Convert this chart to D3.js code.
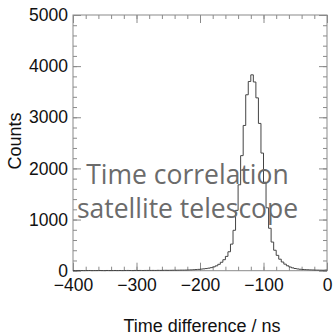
<!DOCTYPE html>
<html>
<head>
<meta charset="utf-8">
<script src="https://cdn.jsdelivr.net/npm/d3@7"></script>
<style>
  body { margin: 0; background: #fff; }
  svg { display: block; }
</style>
</head>
<body>
<div id="chart"></div>
<script>
// histogram: 4 ns bins from -400 to 0
const binStart = -400;
const binWidth = 4;
const counts = [
  3, 2, 4, 3, 2, 3, 4, 2, 3, 3,
  4, 3, 2, 4, 3, 3, 4, 3, 4, 3,
  4, 5, 4, 3, 5, 4, 5, 4, 5, 6,
  5, 6, 5, 7, 6, 7, 8, 7, 8, 9,
  9, 10, 11, 11, 12, 14, 16, 19, 22, 26,
  31, 36, 42, 50, 60, 75, 95, 125, 165, 215,
  280, 370, 520, 790, 1180, 1680, 2250, 2840, 3440, 3700,
  3830, 3690, 3380, 2880, 2300, 1730, 1230, 830, 560, 400,
  300, 225, 170, 128, 96, 72, 55, 43, 34, 28,
  24, 21, 18, 16, 14, 12, 11, 10, 9, 12
];
const xTicks = [-400, -300, -200, -100, 0];
const yTicks = [0, 1000, 2000, 3000, 4000, 5000];
const xLabel = "Time difference / ns";
const yLabel = "Counts";
const overlayLines = ["Time correlation", "satellite telescope"];

const W = 335, H = 336;
const margin = { top: 15, right: 8, bottom: 65.3, left: 73 };
const innerW = W - margin.left - margin.right;
const innerH = H - margin.top - margin.bottom;
const font = "'Liberation Sans', Arial, Helvetica, sans-serif";

const svg = d3.select("#chart").append("svg")
  .attr("width", W)
  .attr("height", H);

const g = svg.append("g")
  .attr("transform", `translate(${margin.left},${margin.top})`);

const x = d3.scaleLinear().domain([-400, 0]).range([0, innerW]);
const y = d3.scaleLinear().domain([0, 5000]).range([innerH, 0]);

const minorX = d3.range(-400, 0.001, 20);
const minorY = d3.range(0, 5000.001, 200);
const frameColor = "#8a8a8a";

function styleAxis(sel) {
  sel.select(".domain").remove();
  sel.selectAll(".tick line").attr("stroke", frameColor);
  sel.selectAll(".tick text")
    .attr("fill", "#111")
    .style("font-family", font)
    .style("font-size", "17.5px");
}

// minor ticks on all four sides
g.append("g").attr("transform", `translate(0,${innerH})`)
  .call(d3.axisBottom(x).tickValues(minorX).tickSize(-4).tickFormat(""))
  .call(styleAxis);
g.append("g")
  .call(d3.axisTop(x).tickValues(minorX).tickSize(-4).tickFormat(""))
  .call(styleAxis);
g.append("g")
  .call(d3.axisLeft(y).tickValues(minorY).tickSize(-4).tickFormat(""))
  .call(styleAxis);
g.append("g").attr("transform", `translate(${innerW},0)`)
  .call(d3.axisRight(y).tickValues(minorY).tickSize(-4).tickFormat(""))
  .call(styleAxis);

// major ticks
g.append("g").attr("transform", `translate(0,${innerH})`)
  .call(d3.axisBottom(x).tickValues(xTicks).tickSize(-8).tickPadding(8))
  .call(styleAxis);
g.append("g")
  .call(d3.axisTop(x).tickValues(xTicks).tickSize(-8).tickFormat(""))
  .call(styleAxis);
g.append("g")
  .call(d3.axisLeft(y).tickValues(yTicks).tickSize(-8).tickPadding(5).tickFormat(d3.format("d")))
  .call(styleAxis);
g.append("g").attr("transform", `translate(${innerW},0)`)
  .call(d3.axisRight(y).tickValues(yTicks).tickSize(-8).tickFormat(""))
  .call(styleAxis);

// frame
g.append("rect")
  .attr("width", innerW)
  .attr("height", innerH)
  .attr("fill", "none")
  .attr("stroke", frameColor)
  .attr("stroke-width", 1);

// histogram as a step line
const steps = counts.map((c, i) => ({ x: binStart + i * binWidth, v: c }));
steps.push({ x: binStart + counts.length * binWidth, v: counts[counts.length - 1] });

const line = d3.line()
  .x(d => x(d.x))
  .y(d => y(d.v))
  .curve(d3.curveStepAfter);

g.append("path")
  .datum(steps)
  .attr("d", line)
  .attr("fill", "none")
  .attr("stroke", "#444")
  .attr("stroke-width", 1);

// axis titles
svg.append("text")
  .attr("x", 202)
  .attr("y", 332)
  .attr("text-anchor", "middle")
  .style("font-family", font)
  .style("font-size", "18px")
  .attr("fill", "#111")
  .text(xLabel);

svg.append("text")
  .attr("transform", "translate(21,141) rotate(-90)")
  .attr("text-anchor", "middle")
  .style("font-family", font)
  .style("font-size", "18px")
  .attr("fill", "#111")
  .text(yLabel);

// overlay caption
svg.append("g").selectAll("text")
  .data(overlayLines)
  .join("text")
  .attr("x", 187.5)
  .attr("y", (d, i) => 184 + i * 34)
  .attr("text-anchor", "middle")
  .style("font-family", "'Open Sans', 'Noto Sans', sans-serif")
  .style("font-size", "26.5px")
  .attr("fill", "#6b6b6b")
  .text(d => d);
</script>
</body>
</html>
